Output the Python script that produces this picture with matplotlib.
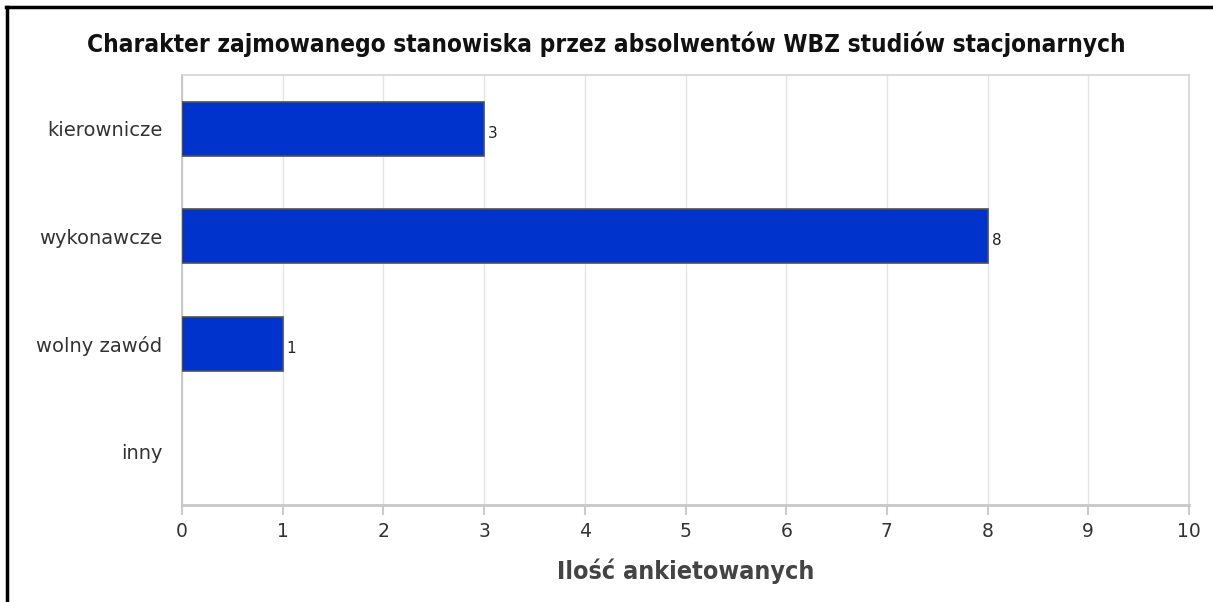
import matplotlib
matplotlib.use('Agg')
import matplotlib.pyplot as plt
from matplotlib.lines import Line2D

# Dane
kategorie = ['kierownicze', 'wykonawcze', 'wolny zawód', 'inny']
wartosci = [3, 8, 1, 0]
ticki_x = [0, 1, 2, 3, 4, 5, 6, 7, 8, 9, 10]

tytul = 'Charakter zajmowanego stanowiska przez absolwentów WBZ studiów stacjonarnych'
opis_x = 'Ilość ankietowanych'

fig = plt.figure(figsize=(12.13, 6.02), dpi=100)
ax = fig.add_axes([182 / 1213, 1 - 505 / 602, (1189 - 182) / 1213, (505 - 75) / 602])

pozycje = list(range(len(kategorie)))
krawedzie = ['#505050' if v > 0 else 'none' for v in wartosci]
ax.barh(pozycje, wartosci, height=0.5, color='#0033CC', edgecolor=krawedzie, linewidth=1.2, zorder=3)

# Etykiety wartości (bez zera)
for p, v in zip(pozycje, wartosci):
    if v > 0:
        ax.text(v + 0.04, p + 0.04, str(v), va='center', ha='left', fontsize=11, color='#222222', zorder=4)

ax.set_xlim(0, 10)
ax.set_ylim(3.5, -0.5)
ax.set_xticks(ticki_x)
ax.set_xticklabels([str(t) for t in ticki_x], fontsize=13.5, color='#333333')
ax.set_yticks(pozycje)
ax.set_yticklabels(kategorie, fontsize=14, color='#333333')
ax.tick_params(axis='y', length=0, pad=14)
ax.tick_params(axis='x', length=7, color='#cccccc', width=1.5, pad=5)

ax.grid(axis='x', color='#e4e4e4', linewidth=1, zorder=0)
for s in ax.spines.values():
    s.set_color('#d4d4d4')
    s.set_linewidth(1.2)
ax.spines['left'].set_color('#c0c0c0')
ax.spines['bottom'].set_color('#c8c8c8')
ax.spines['bottom'].set_linewidth(2)

fig.text(0.5, 1 - 44 / 602, tytul, ha='center', va='center', fontsize=17.5, fontstretch='condensed',
         fontweight='bold', family=['DejaVu Sans'], color='#111111')
fig.text(686 / 1213, 1 - 571 / 602, opis_x, ha='center', va='center', fontsize=18, fontstretch='condensed',
         fontweight='bold', family=['DejaVu Sans'], color='#444444')

# Ramka wokół obrazka (lewa i górna krawędź)
fig.add_artist(Line2D([7 / 1213, 7 / 1213], [0, 1 - 7 / 602], transform=fig.transFigure, color='black', linewidth=2.5))
fig.add_artist(Line2D([6 / 1213, 1], [1 - 7 / 602, 1 - 7 / 602], transform=fig.transFigure, color='black', linewidth=2.5))

fig.savefig('out.png', dpi=100)
